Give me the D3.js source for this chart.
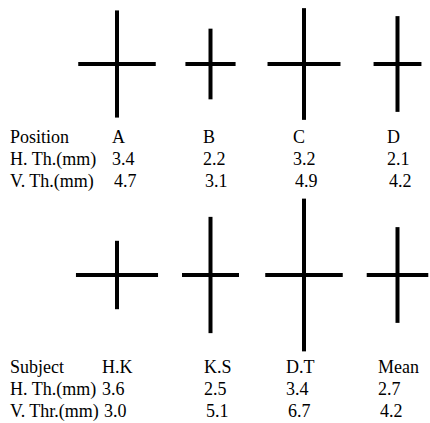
<!DOCTYPE html>
<html>
<head>
<meta charset="utf-8">
<script src="https://cdn.jsdelivr.net/npm/d3@7"></script>
</head>
<body style="margin:0;padding:0;background:#fff;">
<svg id="chart" style="display:block;"></svg>
<script>
// data
const positions = ['A', 'B', 'C', 'D'];
const positionH = [3.4, 2.2, 3.2, 2.1];
const positionV = [4.7, 3.1, 4.9, 4.2];
const positionRows = ['Position', 'H. Th.(mm)', 'V. Th.(mm)'];

const subjects = ['H.K', 'K.S', 'D.T', 'Mean'];
const subjectH = [3.6, 2.5, 3.4, 2.7];
const subjectV = [3.0, 5.1, 6.7, 4.2];
const subjectRows = ['Subject', 'H. Th.(mm)', 'V. Thr.(mm)'];

const FONT = '"Liberation Serif", "Times New Roman", "DejaVu Serif", serif';

class CrossPanel {
    constructor (config, data) {
        this.config = {
            parent: config.parent,
            crossY: config.crossY,
            textTop: config.textTop,
            textCols: config.textCols,
            mm: config.mm
        };
        this.data = data;
        this.init();
    }

    init() {
        let self = this;
        self.g = self.config.parent.append('g')
            .attr('font-family', FONT)
            .attr('font-size', 18)
            .attr('fill', '#000');

        // cross centers
        self.xscale = d3.scalePoint()
            .domain(self.data.cats)
            .range([117, 397.5]);

        // text column starts (the original table is typed, not centered)
        self.tscale = d3.scaleOrdinal()
            .domain(self.data.cats)
            .range(self.config.textCols);

        self.yrow = d3.scalePoint()
            .domain(d3.range(3))
            .range([self.config.textTop, self.config.textTop + 44]);
    }

    render() {
        let self = this;
        const mm = self.config.mm;
        const items = self.data.cats.map((c, i) => ({cat: c, h: self.data.h[i], v: self.data.v[i]}));

        const cross = self.g.selectAll('.cross')
            .data(items)
            .join('g')
            .attr('class', 'cross')
            .attr('transform', d => `translate(${self.xscale(d.cat)}, ${self.config.crossY})`);

        cross.append('line')
            .attr('x1', d => -mm(d.h) / 2)
            .attr('x2', d => mm(d.h) / 2)
            .attr('y1', 0).attr('y2', 0)
            .attr('stroke', '#000')
            .attr('stroke-width', 4);

        cross.append('line')
            .attr('y1', d => -mm(d.v) / 2)
            .attr('y2', d => mm(d.v) / 2)
            .attr('x1', 0).attr('x2', 0)
            .attr('stroke', '#000')
            .attr('stroke-width', 4);

        self.g.selectAll('.rowlabel')
            .data(self.data.rows)
            .join('text')
            .attr('class', 'rowlabel')
            .attr('x', 10)
            .attr('y', (d, i) => self.yrow(i))
            .text(d => d);

        const rows = [
            self.data.cats.map(c => ({cat: c, text: c})),
            items.map(d => ({cat: d.cat, text: d.h.toFixed(1)})),
            items.map(d => ({cat: d.cat, text: d.v.toFixed(1)}))
        ];

        rows.forEach((row, r) => {
            self.g.selectAll(`.cell${r}`)
                .data(row)
                .join('text')
                .attr('class', `cell${r}`)
                .attr('x', d => self.tscale(d.cat) + (r === 2 ? 2 : 0))
                .attr('y', self.yrow(r))
                .text(d => d.text);
        });
    }
}

const svg = d3.select('#chart')
    .attr('width', 430)
    .attr('height', 423);

const mmScale = d3.scaleLinear().domain([0, 1]).range([0, 22.8]);

const topPanel = new CrossPanel({
    parent: svg, crossY: 64, textTop: 143,
    textCols: [112, 203, 293, 387], mm: mmScale
}, {cats: positions, h: positionH, v: positionV, rows: positionRows});
topPanel.render();

const bottomPanel = new CrossPanel({
    parent: svg, crossY: 275, textTop: 373,
    textCols: [102, 204, 286, 378], mm: mmScale
}, {cats: subjects, h: subjectH, v: subjectV, rows: subjectRows});
bottomPanel.render();
</script>
</body>
</html>
